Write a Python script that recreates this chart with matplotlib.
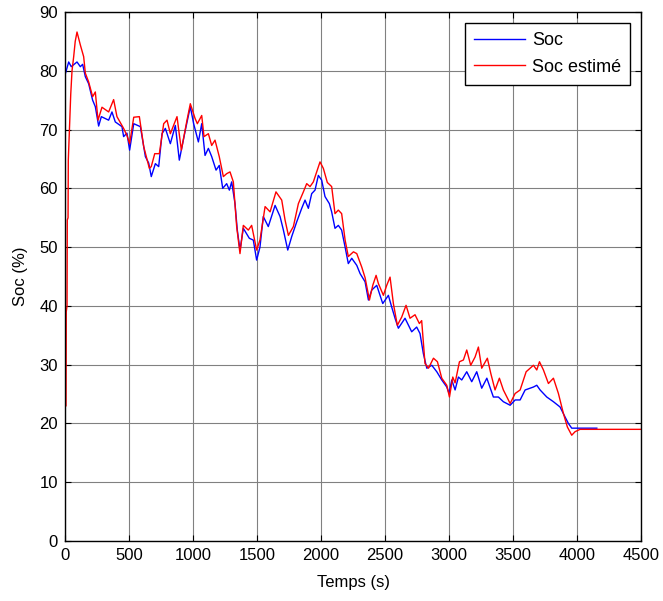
import matplotlib
matplotlib.use('Agg')
import matplotlib.pyplot as plt

# Soc (mesuré)
t_soc = [0, 3, 29, 49, 94, 120, 138, 159, 185, 216, 237, 263, 284, 341, 367, 393, 445, 458, 484,
         505, 537, 589, 628, 654, 674, 706, 732, 758, 784, 823, 862, 893, 940, 979, 1005, 1042,
         1068, 1094, 1120, 1146, 1180, 1205, 1232, 1263, 1284, 1302, 1328, 1346, 1367, 1393, 1440,
         1471, 1497, 1523, 1549, 1588, 1641, 1680, 1706, 1740, 1771, 1810, 1849, 1875, 1901, 1927,
         1953, 1979, 2005, 2031, 2065, 2083, 2109, 2135, 2161, 2188, 2213, 2240, 2279, 2305, 2344,
         2370, 2396, 2435, 2482, 2526, 2552, 2578, 2604, 2656, 2708, 2747, 2773, 2799, 2826, 2865,
         2904, 2943, 2982, 3000, 3021, 3047, 3073, 3099, 3138, 3177, 3216, 3255, 3295, 3346, 3385,
         3424, 3477, 3516, 3555, 3594, 3633, 3659, 3685, 3711, 3763, 3815, 3867, 3906, 3932, 3958,
         4154]
soc = [79.5, 79.5, 81.5, 80.7, 81.5, 80.7, 81.1, 79.0, 77.8, 75.0, 73.9, 70.6, 72.2, 71.6, 73.0,
       71.3, 70.5, 68.8, 69.4, 66.5, 71.0, 70.5, 65.4, 64.3, 62.0, 64.2, 63.7, 69.3, 70.2, 67.6,
       70.7, 64.8, 69.9, 73.9, 71.0, 67.9, 71.0, 65.6, 66.8, 65.4, 63.1, 63.9, 60.0, 60.8, 59.7,
       61.1, 57.4, 52.9, 49.5, 53.2, 51.5, 51.2, 47.8, 50.0, 55.2, 53.5, 57.1, 55.2, 52.9, 49.5,
       51.8, 54.3, 56.6, 58.0, 56.6, 59.1, 59.7, 62.2, 61.4, 58.6, 57.4, 56.0, 53.2, 53.7, 52.9,
       50.0, 47.2, 48.1, 46.9, 45.5, 44.1, 41.0, 42.7, 43.5, 40.4, 41.8, 39.8, 37.9, 36.2, 37.9,
       35.6, 36.4, 35.3, 31.9, 29.4, 29.9, 28.8, 27.4, 26.2, 25.1, 27.4, 25.7, 27.9, 27.4, 28.8,
       27.1, 28.8, 26.0, 27.7, 24.5, 24.5, 23.7, 23.1, 24.0, 24.0, 25.7, 26.0, 26.2, 26.5, 25.7,
       24.5, 23.7, 22.8, 21.1, 20.0, 19.2, 19.2]

# Soc estimé
t_est = [0, 0, 8, 10, 16, 18, 24, 26, 35, 45, 55, 68, 80, 94, 120, 146, 159, 185, 216, 237, 258,
         289, 341, 380, 406, 458, 484, 505, 537, 581, 615, 659, 674, 701, 737, 771, 797, 823, 875,
         909, 953, 979, 1016, 1034, 1068, 1086, 1120, 1146, 1172, 1205, 1237, 1263, 1289, 1315,
         1341, 1367, 1393, 1432, 1458, 1497, 1523, 1563, 1602, 1648, 1693, 1719, 1745, 1784, 1823,
         1862, 1888, 1914, 1940, 1992, 2018, 2049, 2083, 2109, 2135, 2161, 2188, 2213, 2253, 2279,
         2318, 2344, 2378, 2404, 2430, 2448, 2487, 2513, 2539, 2565, 2596, 2630, 2664, 2695, 2734,
         2768, 2786, 2812, 2839, 2878, 2909, 2943, 2982, 3003, 3029, 3047, 3081, 3112, 3138, 3169,
         3203, 3229, 3255, 3299, 3326, 3359, 3393, 3424, 3477, 3516, 3555, 3602, 3633, 3659, 3685,
         3706, 3737, 3776, 3815, 3854, 3893, 3924, 3958, 3984, 4023, 4500]
soc_est = [0, 22.8, 23.0, 39.0, 40.0, 54.6, 55.0, 64.8, 70.0, 76.0, 80.0, 82.4, 85.0, 86.6, 84.4,
           82.4, 79.6, 78.1, 75.6, 76.4, 71.6, 73.8, 73.0, 75.1, 72.2, 70.2, 69.0, 67.6, 72.1, 72.2,
           67.1, 63.4, 63.7, 65.9, 65.9, 71.0, 71.6, 69.3, 72.2, 66.5, 71.6, 74.4, 71.9, 71.0, 72.4,
           68.8, 69.3, 67.3, 68.2, 65.4, 62.0, 62.5, 62.8, 61.1, 53.5, 48.9, 53.7, 52.9, 53.7, 49.5,
           51.2, 56.9, 56.0, 59.4, 58.0, 54.6, 52.0, 53.5, 57.4, 59.4, 60.8, 60.3, 61.1, 64.5, 63.4,
           61.0, 60.3, 55.7, 56.3, 55.7, 51.2, 48.4, 49.2, 48.9, 46.6, 44.8, 41.0, 43.5, 45.2, 43.8,
           41.8, 43.5, 44.9, 40.4, 36.7, 38.1, 40.1, 37.9, 38.5, 37.0, 37.5, 30.2, 29.4, 31.1, 30.5,
           27.7, 26.5, 24.5, 27.9, 26.9, 30.5, 30.8, 32.5, 29.9, 31.3, 33.0, 29.4, 31.1, 28.5, 25.7,
           27.7, 25.7, 23.4, 25.1, 25.7, 28.8, 29.4, 29.9, 29.1, 30.5, 29.1, 26.8, 27.7, 25.1, 21.7,
           19.4, 18.0, 18.6, 19.0, 19.0]

plt.rcParams['font.family'] = ['Liberation Sans Narrow', 'Liberation Sans', 'DejaVu Sans']
plt.rcParams['font.size'] = 12

fig = plt.figure(figsize=(6.63, 6.01), dpi=100)
ax = fig.add_axes([0.098, 0.0998, 0.869, 0.8802])

ax.plot(t_soc, soc, color='blue', lw=1, label='Soc')
ax.plot(t_est, soc_est, color='red', lw=1, label='Soc estimé')

ax.set_xlim(0, 4500)
ax.set_ylim(0, 90)
ax.set_xticks(range(0, 4501, 500))
ax.set_yticks(range(0, 91, 10))
ax.grid(True, color='#808080', lw=0.8)
ax.tick_params(direction='in', top=True, right=True, length=4, pad=5)
for s in ax.spines.values():
    s.set_color('black')
    s.set_linewidth(1)

ax.set_xlabel('Temps (s)', labelpad=9)
ax.set_ylabel('Soc (%)', labelpad=8)

leg = ax.legend(loc='upper right', fancybox=False, edgecolor='black', framealpha=1,
                handlelength=2.8, handletextpad=0.4, labelspacing=0.55, borderpad=0.5,
                borderaxespad=0.6, prop={'family': ['Liberation Sans', 'DejaVu Sans'], 'size': 13})
leg.get_frame().set_linewidth(1)

fig.savefig('out.png', dpi=100)
